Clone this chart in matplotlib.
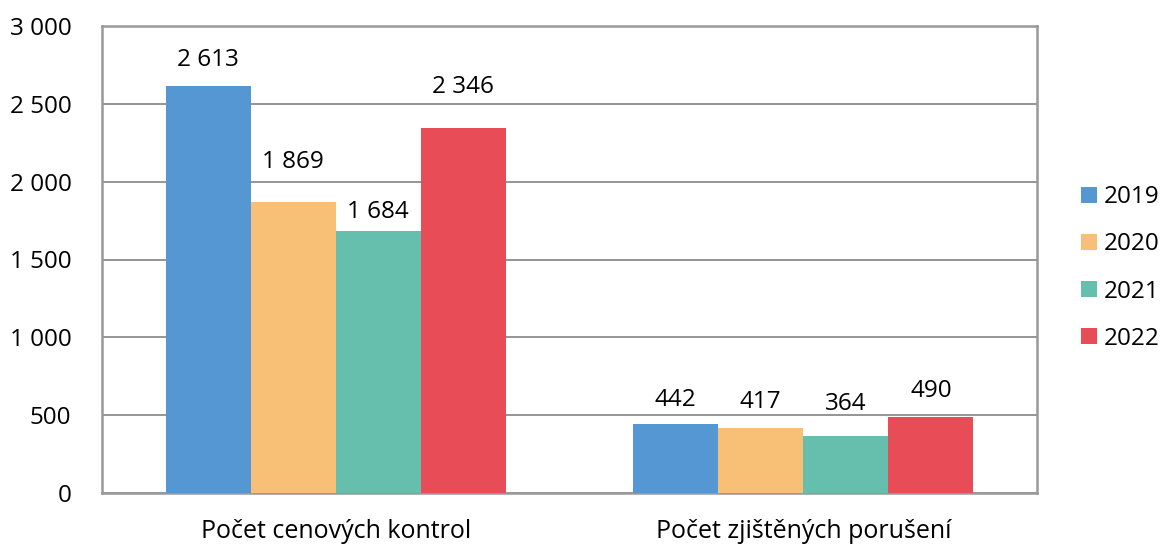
import numpy as np
import matplotlib
matplotlib.use("Agg")
import matplotlib.pyplot as plt

plt.rcParams["font.family"] = ["Open Sans", "DejaVu Sans"]

categories = ["Počet cenových kontrol", "Počet zjištěných porušení"]
years = ["2019", "2020", "2021", "2022"]
values = {
    "2019": [2613, 442],
    "2020": [1869, 417],
    "2021": [1684, 364],
    "2022": [2346, 490],
}
colors = ["#5497D2", "#F8BF76", "#66BFAD", "#E84C56"]
yticks = [0, 500, 1000, 1500, 2000, 2500, 3000]
# label gap above each bar (points), per year then per category
label_gaps = [[10, 9], [20, 10], [5, 15], [21, 10]]


def fmt(v):
    return f"{v:,}".replace(",", " ")


fig = plt.figure(figsize=(11.64, 5.47), dpi=100)
ax = fig.add_axes([102 / 1164, 54 / 547, 935 / 1164, 467 / 547])

x = np.arange(len(categories))
w = 0.182
for i, y in enumerate(years):
    pos = x + (i - 1.5) * w
    bars = ax.bar(pos, values[y], w, color=colors[i], label=y, zorder=3)
    for b, v, g in zip(bars, values[y], label_gaps[i]):
        ax.annotate(fmt(v), (b.get_x() + b.get_width() / 2, v),
                    xytext=(0, g), textcoords="offset points",
                    ha="center", va="bottom", fontsize=17.5, color="#000000")

ax.set_xlim(-0.5, 1.5)
ax.set_ylim(0, 3000)
ax.set_yticks(yticks)
ax.set_yticklabels([fmt(t) for t in yticks], fontsize=17.5, color="#000000")
ax.set_xticks(x)
ax.set_xticklabels(categories, fontsize=18, color="#000000")
ax.tick_params(axis="both", length=0)
ax.tick_params(axis="y", pad=22)
ax.tick_params(axis="x", pad=19)
ax.grid(axis="y", color="#8c8c8c", linewidth=1.3, zorder=0)
for s in ax.spines.values():
    s.set_color("#999999")
    s.set_linewidth(1.8)

fig.legend(loc="center left", bbox_to_anchor=(1071 / 1164, 1 - 268 / 547),
           frameon=False, fontsize=17.5, handlelength=0.66, handleheight=0.66,
           handletextpad=0.3, labelspacing=0.95, borderaxespad=0)

fig.savefig("out.png", dpi=100)
